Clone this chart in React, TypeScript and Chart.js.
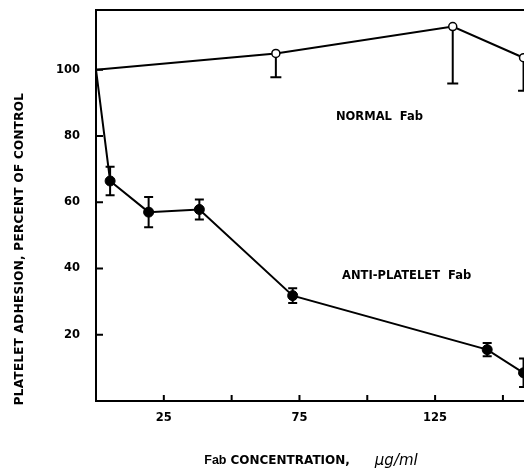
import React, { useEffect, useRef } from 'react';
import { Chart, registerables } from 'chart.js';

Chart.register(...registerables);

// ---- data ----
const normalX = [0, 66.3, 131.5, 157.6];
const normalY = [100, 104.9, 113, 103.6];
const normalErrLow = [0, 7.2, 17.2, 10];

const antiX = [0, 5.2, 19.4, 38.1, 72.5, 144.2, 157.6];
const antiY = [100, 66.4, 57, 57.8, 31.8, 15.5, 8.5];
const antiErr = [0, 4.3, 4.6, 3, 2.2, 2, 4.3];

const xTicks = [25, 50, 75, 100, 125, 150];
const xTickLabels = ['25', '', '75', '', '125', ''];
const yTicks = [20, 40, 60, 80, 100];
const yTickLabels = ['20', '40', '60', '80', '100'];

const seriesLabels = ['NORMAL  Fab', 'ANTI-PLATELET  Fab'];
const labelAnchors = [
  { x: 104.5, y: 85.8 },
  { x: 114.5, y: 37.8 },
];
const yTitle = 'PLATELET ADHESION, PERCENT OF CONTROL';
const xTitleParts = ['Fab', 'CONCENTRATION,', 'μg/ml'];

const BOLD = '"DejaVu Sans", sans-serif';

const zeroPad = (s: any) => {
  s.paddingTop = 0;
  s.paddingBottom = 0;
  s.paddingLeft = 0;
  s.paddingRight = 0;
};

const decorPlugin = {
  id: 'decor',
  beforeDatasetsDraw(chart: any) {
    const { ctx, chartArea: a, scales } = chart;
    const x = scales.x;
    const y = scales.y;
    ctx.save();
    ctx.strokeStyle = '#000';
    ctx.lineWidth = 2;
    ctx.lineCap = 'butt';
    ctx.beginPath();
    // top frame line
    ctx.moveTo(a.left - 1, a.top);
    ctx.lineTo(a.right + 2, a.top);
    // inner tick marks
    yTicks.forEach((v) => {
      const py = y.getPixelForValue(v);
      ctx.moveTo(a.left, py);
      ctx.lineTo(a.left + 7, py);
    });
    xTicks.forEach((v) => {
      const px = x.getPixelForValue(v);
      ctx.moveTo(px, a.bottom);
      ctx.lineTo(px, a.bottom - 6);
    });
    ctx.stroke();

    // error bars: normal (downward only)
    ctx.beginPath();
    normalX.forEach((xv, i) => {
      const e = normalErrLow[i];
      if (!e) return;
      const px = x.getPixelForValue(xv);
      const p0 = y.getPixelForValue(normalY[i]);
      const p1 = y.getPixelForValue(normalY[i] - e);
      ctx.moveTo(px, p0);
      ctx.lineTo(px, p1);
      ctx.moveTo(px - 5.5, p1);
      ctx.lineTo(px + 5.5, p1);
    });
    // anti-platelet (both sides)
    antiX.forEach((xv, i) => {
      const e = antiErr[i];
      if (!e) return;
      const px = x.getPixelForValue(xv);
      const pt = y.getPixelForValue(antiY[i] + e);
      const pb = y.getPixelForValue(antiY[i] - e);
      ctx.moveTo(px, pt);
      ctx.lineTo(px, pb);
      ctx.moveTo(px - 4.5, pt);
      ctx.lineTo(px + 4.5, pt);
      ctx.moveTo(px - 4.5, pb);
      ctx.lineTo(px + 4.5, pb);
    });
    ctx.stroke();
    ctx.restore();
  },
  afterDraw(chart: any) {
    const { ctx, scales } = chart;
    const x = scales.x;
    const y = scales.y;
    ctx.save();
    ctx.fillStyle = '#000';
    ctx.textBaseline = 'middle';
    ctx.textAlign = 'center';

    // in-plot series labels
    ctx.font = `bold 11.5px ${BOLD}`;
    seriesLabels.forEach((t, i) => {
      ctx.fillText(t, x.getPixelForValue(labelAnchors[i].x), y.getPixelForValue(labelAnchors[i].y));
    });

    // y axis title
    ctx.save();
    ctx.translate(19.5, 249);
    ctx.rotate(-Math.PI / 2);
    ctx.font = `bold 12px ${BOLD}`;
    (ctx as any).letterSpacing = '0.3px';
    ctx.fillText(yTitle, 0, 0);
    ctx.restore();

    // x axis title, in three parts
    const fonts = [`bold 12.5px "Liberation Sans", sans-serif`, `bold 12px ${BOLD}`, `italic 15px ${BOLD}`];
    const gaps = [4, 25];
    ctx.textAlign = 'left';
    const widths = xTitleParts.map((t, i) => {
      ctx.font = fonts[i];
      return ctx.measureText(t).width;
    });
    const total = widths.reduce((s, w) => s + w, 0) + gaps[0] + gaps[1];
    let cx = 311 - total / 2;
    const ty = 461;
    xTitleParts.forEach((t, i) => {
      ctx.font = fonts[i];
      ctx.fillText(t, cx, ty);
      cx += widths[i] + (gaps[i] || 0);
    });
    ctx.restore();
  },
};

export default function App() {
  const ref = useRef<HTMLCanvasElement | null>(null);

  useEffect(() => {
    document.body.style.margin = '0';
    const canvas = ref.current;
    if (!canvas) return;
    const chart = new Chart(canvas, {
      type: 'line',
      data: {
        datasets: [
          {
            label: 'Normal Fab',
            data: normalX.map((xv, i) => ({ x: xv, y: normalY[i] })),
            borderColor: '#000',
            borderWidth: 2,
            pointRadius: normalX.map((_, i) => (i === 0 ? 0 : 4)),
            pointBackgroundColor: '#fff',
            pointBorderColor: '#000',
            pointBorderWidth: 1.5,
            tension: 0,
            clip: false,
          } as any,
          {
            label: 'Anti-platelet Fab',
            data: antiX.map((xv, i) => ({ x: xv, y: antiY[i] })),
            borderColor: '#000',
            borderWidth: 2,
            pointRadius: antiX.map((_, i) => (i === 0 ? 0 : 5)),
            pointBackgroundColor: '#000',
            pointBorderColor: '#000',
            pointBorderWidth: 1,
            tension: 0,
            clip: false,
          } as any,
        ],
      },
      options: {
        animation: false,
        responsive: false,
        maintainAspectRatio: false,
        layout: { autoPadding: false, padding: { top: 10, right: 1, left: 0, bottom: 0 } },
        plugins: {
          legend: { display: false },
          tooltip: { enabled: false },
          title: { display: false },
        },
        scales: {
          x: {
            type: 'linear',
            min: 0,
            max: 157.4,
            afterBuildTicks: (s: any) => {
              s.ticks = xTicks.map((v) => ({ value: v }));
            },
            afterFit: (s: any) => {
              s.height = 73;
              zeroPad(s);
            },
            grid: { display: false, drawTicks: false },
            border: { display: true, color: '#000', width: 2 },
            ticks: {
              color: '#000',
              font: { family: BOLD, size: 11.5, weight: 'bold' },
              padding: 10,
              maxRotation: 0,
              autoSkip: false,
              callback: (v: any) => {
                const i = xTicks.indexOf(Number(v));
                return i >= 0 ? xTickLabels[i] : '';
              },
            },
          },
          y: {
            type: 'linear',
            min: 0,
            max: 118,
            afterBuildTicks: (s: any) => {
              s.ticks = yTicks.map((v) => ({ value: v }));
            },
            afterFit: (s: any) => {
              s.width = 96;
              zeroPad(s);
            },
            grid: { display: false, drawTicks: false },
            border: { display: true, color: '#000', width: 2 },
            ticks: {
              color: '#000',
              font: { family: BOLD, size: 11.5, weight: 'bold' },
              padding: 16,
              autoSkip: false,
              callback: (v: any) => {
                const i = yTicks.indexOf(Number(v));
                return i >= 0 ? yTickLabels[i] : '';
              },
            },
          },
        },
      } as any,
      plugins: [decorPlugin],
    });
    return () => chart.destroy();
  }, []);

  return (
    <div style={{ width: 524, height: 474, background: '#fff' }}>
      <canvas ref={ref} width={524} height={474} style={{ display: 'block' }} />
    </div>
  );
}
